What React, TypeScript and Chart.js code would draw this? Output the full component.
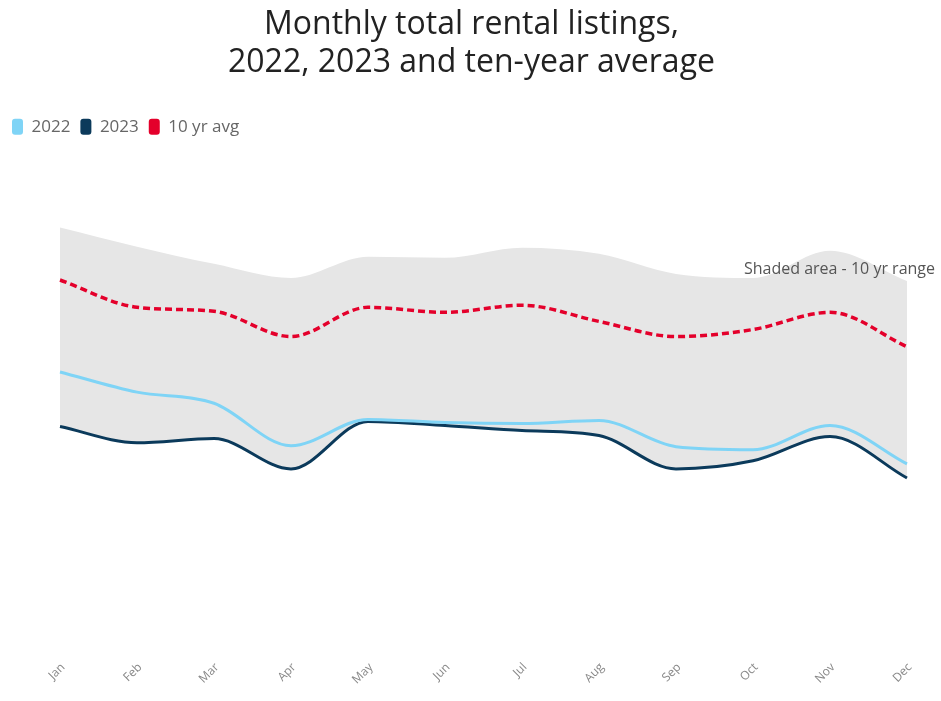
import React, { useEffect, useRef } from "react";
import { Chart, registerables } from "chart.js";

Chart.register(...registerables);

const months = ["Jan", "Feb", "Mar", "Apr", "May", "Jun", "Jul", "Aug", "Sep", "Oct", "Nov", "Dec"];
const listings2022 = [5560, 5160, 4940, 4100, 4620, 4560, 4540, 4600, 4080, 4020, 4500, 3740];
const listings2023 = [4480, 4160, 4240, 3640, 4580, 4500, 4400, 4300, 3640, 3800, 4280, 3460];
const tenYearAvg = [7380, 6840, 6760, 6260, 6840, 6740, 6880, 6560, 6260, 6400, 6740, 6060];
const tenYearMax = [8420, 8040, 7700, 7420, 7840, 7820, 8020, 7900, 7500, 7420, 7960, 7360];
const tenYearMin = [4480, 4160, 4240, 3640, 4580, 4500, 4400, 4300, 3640, 3800, 4280, 3460];

const FONT = "'Open Sans', sans-serif";

const annotationPlugin = {
  id: "rangeNote",
  afterDatasetsDraw(chart: any) {
    const ctx = chart.ctx;
    ctx.save();
    ctx.font = `16px ${FONT}`;
    ctx.fillStyle = "#555";
    ctx.textAlign = "right";
    ctx.textBaseline = "middle";
    ctx.fillText("Shaded area - 10 yr range", chart.width - 6, 269);
    ctx.restore();
  },
};

export default function App() {
  const ref = useRef<HTMLCanvasElement | null>(null);
  useEffect(() => {
    document.body.style.margin = "0";
    const canvas = ref.current;
    if (!canvas) return;
    const chart = new Chart(canvas, {
      type: "line",
      data: {
        labels: months,
        datasets: [
          {
            label: "2022",
            data: listings2022,
            borderColor: "#7fd4f6",
            backgroundColor: "#7fd4f6",
            borderWidth: 3,
            pointRadius: 0,
            cubicInterpolationMode: "monotone",
            fill: false,
          },
          {
            label: "2023",
            data: listings2023,
            borderColor: "#0b3a5b",
            backgroundColor: "#0b3a5b",
            borderWidth: 3,
            pointRadius: 0,
            cubicInterpolationMode: "monotone",
            fill: false,
          },
          {
            label: "10 yr avg",
            data: tenYearAvg,
            borderColor: "#e4002b",
            backgroundColor: "#e4002b",
            borderWidth: 3.5,
            borderDash: [7, 4],
            pointRadius: 0,
            cubicInterpolationMode: "monotone",
            fill: false,
          },
          {
            label: "max",
            data: tenYearMax,
            borderColor: "rgba(0,0,0,0)",
            backgroundColor: "#e6e6e6",
            borderWidth: 0,
            pointRadius: 0,
            cubicInterpolationMode: "monotone",
            fill: "+1",
          },
          {
            label: "min",
            data: tenYearMin,
            borderColor: "rgba(0,0,0,0)",
            backgroundColor: "#e6e6e6",
            borderWidth: 0,
            pointRadius: 0,
            cubicInterpolationMode: "monotone",
            fill: false,
          },
        ],
      },
      options: {
        animation: false,
        responsive: false,
        maintainAspectRatio: false,
        layout: { padding: { left: 2, right: 0, top: 6, bottom: 10 } },
        plugins: {
          title: {
            display: true,
            text: ["Monthly total rental listings,", "2022, 2023 and ten-year average"],
            font: { family: FONT, size: 32, weight: "normal", lineHeight: 1.19 },
            color: "#222",
            padding: { top: 0, bottom: 26 },
          },
          legend: {
            display: true,
            align: "start",
            labels: {
              generateLabels: (chart: any) =>
                chart.data.datasets
                  .map((ds: any, i: number) => ({
                    text: ds.label,
                    fillStyle: ds.borderColor,
                    strokeStyle: ds.borderColor,
                    lineWidth: 0,
                    lineDash: [],
                    fontColor: "#666",
                    hidden: false,
                    datasetIndex: i,
                    borderRadius: 3,
                  }))
                  .filter((it: any) => it.text !== "max" && it.text !== "min"),
              boxWidth: 11,
              boxHeight: 16,
              useBorderRadius: true,
              borderRadius: 3,
              color: "#666",
              font: { family: FONT, size: 17 },
              padding: 10,
            },
          },
          tooltip: { enabled: false },
        },
        scales: {
          x: {
            offset: false,
            grid: { display: false },
            border: { display: false },
            ticks: {
              minRotation: 45,
              maxRotation: 45,
              color: "#888",
              font: { family: FONT, size: 12 },
              labelOffset: 3,
              padding: 4,
            },
          },
          y: {
            display: true,
            position: "left",
            min: 90,
            max: 10050,
            grid: { display: false },
            border: { display: false },
            ticks: { display: false },
            afterFit: (scale: any) => {
              scale.width = 58;
            },
          },
          yRight: {
            display: true,
            position: "right",
            min: 0,
            max: 1,
            grid: { display: false },
            border: { display: false },
            ticks: { display: false },
            afterFit: (scale: any) => {
              scale.width = 34;
            },
          },
        },
      },
      plugins: [annotationPlugin],
    });
    return () => chart.destroy();
  }, []);
  return (
    <div style={{ width: 941, height: 701 }}>
      <canvas ref={ref} width={941} height={701} style={{ width: 941, height: 701, display: "block" }} />
    </div>
  );
}
